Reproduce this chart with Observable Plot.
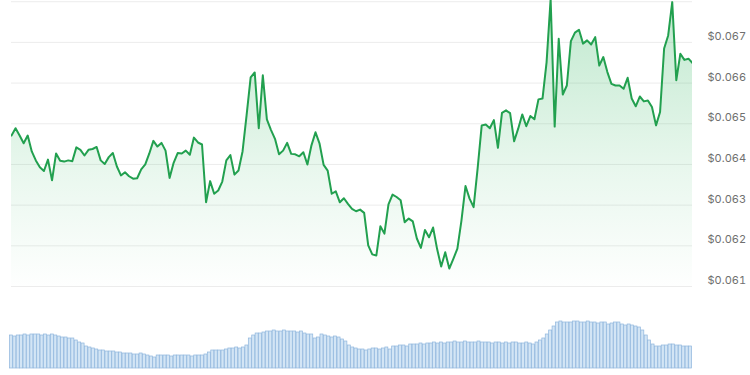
<!DOCTYPE html>
<html>
<head>
<meta charset="utf-8">
<script src="https://cdn.jsdelivr.net/npm/d3@7"></script>
<script src="https://cdn.jsdelivr.net/npm/@observablehq/plot@0.6"></script>
<style>
  html, body { margin: 0; padding: 0; background: #ffffff; }
  #chart svg { display: block; }
</style>
</head>
<body>
<div id="chart"></div>
<script>
// Price (USD), hourly over the period
const prices = [
  0.06471,0.06489,0.06471,0.06452,0.06471,0.06432,0.06410,0.06393,0.06384,0.06412,
  0.06361,0.06427,0.06409,0.06407,0.06410,0.06408,0.06442,0.06436,0.06422,0.06436,
  0.06438,0.06443,0.06410,0.06401,0.06418,0.06428,0.06395,0.06373,0.06381,0.06371,
  0.06365,0.06366,0.06388,0.06400,0.06427,0.06458,0.06444,0.06453,0.06434,0.06367,
  0.06404,0.06428,0.06427,0.06434,0.06424,0.06466,0.06454,0.06449,0.06307,0.06359,
  0.06328,0.06336,0.06358,0.06410,0.06423,0.06375,0.06385,0.06432,0.06521,0.06614,
  0.06626,0.06489,0.06619,0.06511,0.06485,0.06463,0.06425,0.06434,0.06453,0.06426,
  0.06425,0.06420,0.06430,0.06400,0.06447,0.06479,0.06451,0.06399,0.06385,0.06328,
  0.06334,0.06307,0.06317,0.06303,0.06291,0.06285,0.06289,0.06281,0.06201,0.06179,
  0.06176,0.06248,0.06230,0.06302,0.06326,0.06320,0.06312,0.06258,0.06267,0.06260,
  0.06218,0.06195,0.06239,0.06221,0.06245,0.06192,0.06149,0.06184,0.06144,0.06168,
  0.06193,0.06262,0.06347,0.06316,0.06295,0.06391,0.06496,0.06498,0.06489,0.06509,
  0.06441,0.06527,0.06533,0.06526,0.06457,0.06488,0.06523,0.06494,0.06519,0.06511,
  0.06560,0.06562,0.06651,0.06806,0.06493,0.06709,0.06572,0.06594,0.06703,0.06724,
  0.06731,0.06697,0.06705,0.06695,0.06713,0.06643,0.06664,0.06627,0.06598,0.06594,
  0.06594,0.06586,0.06613,0.06562,0.06543,0.06567,0.06555,0.06557,0.06541,0.06496,
  0.06529,0.06685,0.06717,0.06799,0.06607,0.06672,0.06657,0.06660,0.06649
];

// Trading volume (millions USD)
const volumes = [
  3.3,3.2,3.3,3.3,3.4,3.3,3.4,3.4,3.4,3.3,3.4,3.3,3.4,3.3,3.2,
  3.1,3.1,3.0,3.0,
  2.8,2.6,2.5,
  2.2,2.1,2.0,
  1.9,1.8,1.8,1.7,1.7,1.7,1.6,1.6,
  1.5,1.5,1.5,1.4,1.4,1.5,1.4,
  1.3,1.2,1.1,
  1.3,1.3,1.3,1.3,1.2,1.3,1.3,1.3,1.3,1.3,1.2,1.3,1.3,1.3,1.4,
  1.6,1.8,1.8,1.8,1.8,
  1.9,2.0,2.0,2.1,2.0,2.1,2.3,
  3.0,3.3,3.5,3.5,3.6,
  3.7,3.7,3.8,3.7,3.7,3.8,3.7,3.7,
  3.7,3.6,3.7,
  3.5,3.4,3.4,3.0,3.1,
  3.4,3.3,3.2,3.1,3.2,3.1,
  2.9,2.7,2.3,
  2.1,2.0,1.9,1.9,1.8,1.9,2.0,
  2.0,1.9,2.0,2.1,1.9,2.2,2.2,
  2.3,2.3,2.2,2.4,2.4,2.4,2.5,2.4,2.5,2.5,2.6,2.5,
  2.6,2.5,2.6,2.6,2.7,2.6,2.6,2.7,2.6,2.6,2.6,2.7,2.6,2.6,2.6,2.5,2.6,2.6,2.5,2.6,2.5,2.6,2.6,2.5,2.5,2.6,2.5,2.4,2.6,2.8,
  3.0,3.4,3.8,4.2,
  4.6,4.7,4.6,4.6,4.6,4.7,4.7,4.6,4.6,4.7,4.6,4.6,4.5,4.6,4.6,4.4,4.5,4.6,4.6,
  4.4,4.3,4.4,4.3,4.2,4.1,
  3.8,3.3,2.8,2.4,2.2,
  2.2,2.3,2.3,2.4,2.4,2.3,2.3,2.2,2.2,2.2
];

// Y-axis tick values
const priceTicks = [0.061, 0.062, 0.063, 0.064, 0.065, 0.066, 0.067];
const gridTicks = [0.061, 0.062, 0.063, 0.064, 0.065, 0.066, 0.067, 0.068];

const lineColor = "#22a04f";

const priceChart = Plot.plot({
  width: 750,
  height: 300,
  marginLeft: 11,
  marginRight: 58,
  marginTop: 0,
  marginBottom: 14,
  style: { fontFamily: "Inter, 'Noto Sans', sans-serif", background: "#ffffff" },
  x: { domain: [0, prices.length - 1], axis: null },
  y: { domain: [0.061, 0.06803], axis: null },
  marks: [
    Plot.gridY(gridTicks, { stroke: "#ececec", strokeOpacity: 1, strokeWidth: 1 }),
    Plot.areaY(prices, { x: (d, i) => i, y1: 0.061, y2: d => d, fill: "url(#priceGrad)", clip: true }),
    Plot.lineY(prices, { x: (d, i) => i, y: d => d, stroke: lineColor, strokeWidth: 2, strokeLinejoin: "round", clip: true }),
    Plot.axisY(priceTicks, {
      anchor: "right",
      tickSize: 0,
      tickPadding: 15,
      dy: -6,
      fontSize: 11,
      color: "#6f6f6f",
      tickFormat: d => "$" + d.toFixed(3),
      label: null
    })
  ]
});

const ns = "http://www.w3.org/2000/svg";
const defs = document.createElementNS(ns, "defs");
defs.innerHTML = `<linearGradient id="priceGrad" gradientUnits="userSpaceOnUse" x1="0" y1="0" x2="0" y2="292">
  <stop offset="0" stop-color="#2db55c" stop-opacity="0.30"/>
  <stop offset="0.6" stop-color="#2db55c" stop-opacity="0.10"/>
  <stop offset="1" stop-color="#2db55c" stop-opacity="0"/>
</linearGradient>`;
priceChart.prepend(defs);

const volumeChart = Plot.plot({
  width: 750,
  height: 75,
  marginLeft: 9,
  marginRight: 58,
  marginTop: 0,
  marginBottom: 7,
  style: { background: "#ffffff" },
  x: { type: "band", domain: d3.range(volumes.length), axis: null, padding: 0.12 },
  y: { domain: [0, 6.8], axis: null },
  marks: [
    Plot.barY(volumes, { x: (d, i) => i, y: d => d, fill: "#d3e5f5", stroke: "#8fb6dd", strokeWidth: 0.7 })
  ]
});

const chart = document.getElementById("chart");
chart.appendChild(priceChart);
chart.appendChild(volumeChart);
</script>
</body>
</html>
